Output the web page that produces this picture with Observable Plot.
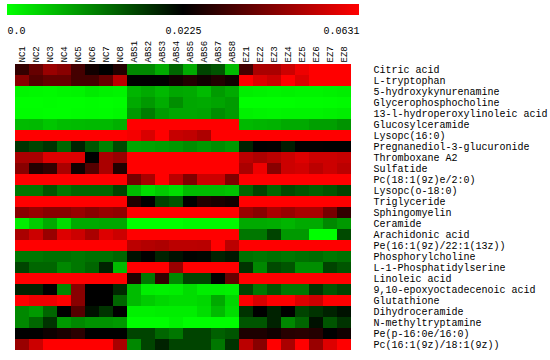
<!DOCTYPE html>
<html><head><meta charset="utf-8">
<script src="https://cdn.jsdelivr.net/npm/d3@7"></script>
<script src="https://cdn.jsdelivr.net/npm/@observablehq/plot@0.6"></script>
<style>
body{margin:0;background:#fff;}
#legend svg,#chart svg{display:block;}
</style>
</head><body>
<div id="legend"></div>
<div id="chart"></div>
<script>
const samples = ["NC1","NC2","NC3","NC4","NC5","NC6","NC7","NC8",
  "ABS1","ABS2","ABS3","ABS4","ABS5","ABS6","ABS7","ABS8",
  "EZ1","EZ2","EZ3","EZ4","EZ5","EZ6","EZ7","EZ8"];
const metabolites = ["Citric acid","L-tryptophan","5-hydroxykynurenamine","Glycerophosphocholine",
  "13-l-hydroperoxylinoleic acid","Glucosylceramide","Lysopc(16:0)","Pregnanediol-3-glucuronide",
  "Thromboxane A2","Sulfatide","Pc(18:1(9z)e/2:0)","Lysopc(o-18:0)","Triglyceride","Sphingomyelin",
  "Ceramide","Arachidonic acid","Pe(16:1(9z)/22:1(13z))","Phosphorylcholine","L-1-Phosphatidylserine",
  "Linoleic acid","9,10-epoxyoctadecenoic acid","Glutathione","Dihydroceramide","N-methyltryptamine",
  "Pe(p-16:0e/16:0)","Pc(16:1(9z)/18:1(9z))"];
// one row per metabolite: NC1..NC8, ABS1..ABS8, EZ1..EZ8
const values = [
  [0.0306,0.0387,0.0469,0.0442,0.0333,0.0252,0.0225,0.0279, 0.0105,0.0105,0.0075,0.0135,0.0075,0.0165,0.0150,0.0060, 0.0333,0.0496,0.0496,0.0550,0.0604,0.0631,0.0631,0.0631],
  [0.0442,0.0360,0.0387,0.0387,0.0333,0.0333,0.0387,0.0523, 0.0225,0.0225,0.0225,0.0252,0.0279,0.0252,0.0279,0.0252, 0.0631,0.0577,0.0550,0.0631,0.0577,0.0631,0.0631,0.0631],
  [0.0008,0.0006,0.0004,0.0008,0.0010,0.0018,0.0012,0.0010, 0.0065,0.0075,0.0062,0.0078,0.0075,0.0060,0.0088,0.0075, 0.0015,0.0012,0.0010,0.0012,0.0010,0.0010,0.0012,0.0015],
  [0.0000,0.0000,0.0002,0.0000,0.0000,0.0002,0.0000,0.0002, 0.0075,0.0090,0.0072,0.0100,0.0078,0.0075,0.0080,0.0088, 0.0000,0.0000,0.0000,0.0000,0.0002,0.0002,0.0003,0.0004],
  [0.0002,0.0002,0.0000,0.0000,0.0002,0.0003,0.0002,0.0005, 0.0090,0.0115,0.0088,0.0078,0.0078,0.0080,0.0100,0.0088, 0.0012,0.0010,0.0008,0.0010,0.0010,0.0010,0.0012,0.0015],
  [0.0060,0.0062,0.0050,0.0058,0.0060,0.0062,0.0062,0.0070, 0.0631,0.0631,0.0631,0.0631,0.0631,0.0631,0.0631,0.0631, 0.0062,0.0065,0.0068,0.0075,0.0075,0.0085,0.0085,0.0095],
  [0.0631,0.0631,0.0631,0.0631,0.0631,0.0631,0.0631,0.0631, 0.0615,0.0570,0.0631,0.0540,0.0530,0.0500,0.0631,0.0631, 0.0631,0.0631,0.0631,0.0631,0.0631,0.0631,0.0631,0.0631],
  [0.0180,0.0165,0.0180,0.0135,0.0195,0.0150,0.0110,0.0160, 0.0078,0.0080,0.0085,0.0090,0.0100,0.0090,0.0100,0.0090, 0.0195,0.0225,0.0228,0.0200,0.0228,0.0228,0.0225,0.0225],
  [0.0496,0.0496,0.0577,0.0577,0.0577,0.0225,0.0496,0.0469, 0.0631,0.0631,0.0631,0.0631,0.0631,0.0631,0.0631,0.0631, 0.0523,0.0500,0.0523,0.0550,0.0577,0.0550,0.0550,0.0540],
  [0.0442,0.0279,0.0306,0.0496,0.0252,0.0360,0.0496,0.0279, 0.0631,0.0631,0.0631,0.0631,0.0631,0.0631,0.0631,0.0631, 0.0496,0.0604,0.0442,0.0550,0.0560,0.0523,0.0550,0.0523],
  [0.0631,0.0631,0.0631,0.0631,0.0631,0.0631,0.0631,0.0631, 0.0414,0.0496,0.0631,0.0523,0.0430,0.0550,0.0550,0.0430, 0.0631,0.0631,0.0631,0.0631,0.0631,0.0631,0.0631,0.0631],
  [0.0120,0.0120,0.0150,0.0120,0.0135,0.0135,0.0135,0.0165, 0.0060,0.0030,0.0045,0.0030,0.0060,0.0060,0.0060,0.0055, 0.0135,0.0165,0.0135,0.0160,0.0150,0.0140,0.0150,0.0165],
  [0.0631,0.0631,0.0631,0.0631,0.0631,0.0631,0.0631,0.0631, 0.0279,0.0225,0.0165,0.0150,0.0225,0.0279,0.0265,0.0252, 0.0631,0.0631,0.0631,0.0631,0.0631,0.0631,0.0631,0.0631],
  [0.0442,0.0465,0.0442,0.0442,0.0465,0.0442,0.0465,0.0455, 0.0631,0.0631,0.0631,0.0631,0.0631,0.0631,0.0631,0.0631, 0.0469,0.0442,0.0496,0.0469,0.0496,0.0496,0.0414,0.0306],
  [0.0015,0.0045,0.0075,0.0030,0.0075,0.0075,0.0078,0.0078, 0.0000,0.0000,0.0000,0.0000,0.0005,0.0005,0.0005,0.0005, 0.0075,0.0075,0.0072,0.0065,0.0075,0.0075,0.0105,0.0090],
  [0.0496,0.0550,0.0469,0.0577,0.0550,0.0496,0.0577,0.0550, 0.0631,0.0631,0.0631,0.0631,0.0631,0.0631,0.0631,0.0631, 0.0120,0.0120,0.0165,0.0090,0.0090,0.0000,0.0000,0.0160],
  [0.0631,0.0631,0.0631,0.0631,0.0631,0.0631,0.0631,0.0631, 0.0523,0.0510,0.0500,0.0523,0.0523,0.0520,0.0631,0.0523, 0.0631,0.0631,0.0631,0.0631,0.0631,0.0631,0.0631,0.0631],
  [0.0120,0.0120,0.0125,0.0125,0.0120,0.0125,0.0125,0.0135, 0.0210,0.0225,0.0195,0.0210,0.0222,0.0220,0.0195,0.0205, 0.0125,0.0120,0.0125,0.0120,0.0125,0.0130,0.0120,0.0125],
  [0.0165,0.0135,0.0135,0.0105,0.0120,0.0135,0.0195,0.0060, 0.0631,0.0631,0.0631,0.0469,0.0631,0.0631,0.0631,0.0631, 0.0180,0.0105,0.0160,0.0150,0.0100,0.0100,0.0165,0.0150],
  [0.0631,0.0631,0.0631,0.0631,0.0631,0.0631,0.0631,0.0631, 0.0279,0.0120,0.0306,0.0105,0.0165,0.0165,0.0225,0.0387, 0.0631,0.0631,0.0631,0.0631,0.0631,0.0631,0.0631,0.0631],
  [0.0195,0.0195,0.0225,0.0105,0.0442,0.0225,0.0225,0.0190, 0.0060,0.0015,0.0012,0.0015,0.0030,0.0015,0.0015,0.0012, 0.0165,0.0120,0.0150,0.0120,0.0120,0.0180,0.0150,0.0165],
  [0.0631,0.0604,0.0604,0.0631,0.0442,0.0225,0.0225,0.0135, 0.0060,0.0045,0.0035,0.0030,0.0030,0.0035,0.0075,0.0035, 0.0631,0.0570,0.0631,0.0631,0.0577,0.0550,0.0631,0.0631],
  [0.0105,0.0090,0.0135,0.0225,0.0360,0.0210,0.0180,0.0225, 0.0012,0.0012,0.0015,0.0015,0.0015,0.0030,0.0060,0.0030, 0.0180,0.0225,0.0195,0.0225,0.0165,0.0180,0.0195,0.0210],
  [0.0105,0.0135,0.0180,0.0090,0.0105,0.0095,0.0095,0.0090, 0.0000,0.0000,0.0000,0.0010,0.0000,0.0000,0.0000,0.0000, 0.0150,0.0150,0.0195,0.0105,0.0135,0.0210,0.0150,0.0180],
  [0.0225,0.0225,0.0245,0.0265,0.0290,0.0225,0.0225,0.0225, 0.0165,0.0165,0.0135,0.0120,0.0165,0.0165,0.0140,0.0150, 0.0270,0.0270,0.0250,0.0285,0.0290,0.0280,0.0225,0.0250],
  [0.0469,0.0550,0.0631,0.0631,0.0631,0.0631,0.0631,0.0496, 0.0105,0.0165,0.0195,0.0165,0.0165,0.0165,0.0120,0.0180, 0.0523,0.0442,0.0631,0.0496,0.0631,0.0469,0.0577,0.0631]
];
const legendTicks = [0, 0.0225, 0.0631];
const legendLabels = ["0.0", "0.0225", "0.0631"];
const colorRange = ["#00ff00", "#000000", "#ff0000"];

const table = [];
metabolites.forEach((m, i) => samples.forEach((s, j) => table.push({metabolite: m, sample: s, value: values[i][j]})));

const colorOpts = {
  type: "diverging",
  symmetric: false,
  domain: [legendTicks[0], legendTicks[2]],
  pivot: legendTicks[1],
  interpolate: d3.piecewise(d3.interpolateRgb, colorRange)
};

const font = "'Liberation Mono', 'DejaVu Sans Mono', monospace";

const legend = Plot.legend({
  color: colorOpts,
  width: 360, height: 38,
  marginLeft: 7, marginRight: 1, marginTop: 4, marginBottom: 23,
  tickSize: 9,
  ticks: legendTicks,
  tickFormat: (d, i) => legendLabels[i],
  label: null,
  style: {fontFamily: font, fontSize: "10px", color: "#000", background: "#fff"}
});
legend.querySelectorAll(".tick line").forEach(l => l.remove());
const texts = legend.querySelectorAll(".tick text");
if (texts.length) {
  texts[0].setAttribute("text-anchor", "start");
  texts[texts.length - 1].setAttribute("text-anchor", "end");
}
document.getElementById("legend").append(legend);

const chart = Plot.plot({
  width: 550, height: 322,
  marginTop: 26, marginBottom: 10, marginLeft: 7, marginRight: 191,
  style: {fontFamily: font, fontSize: "10px", color: "#000", background: "#fff"},
  x: {domain: samples, padding: 0},
  y: {domain: metabolites, padding: 0},
  color: colorOpts,
  marks: [
    Plot.cell(table, {x: "sample", y: "metabolite", fill: "value", inset: 0, shapeRendering: "crispEdges"}),
    Plot.axisX({anchor: "top", tickRotate: -90, tickSize: 0, tickPadding: 2, fontSize: 9, label: null}),
    Plot.axisY({anchor: "right", tickSize: 0, tickPadding: 14, fontSize: 10, label: null})
  ]
});
document.getElementById("chart").append(chart);
</script>
</body></html>
